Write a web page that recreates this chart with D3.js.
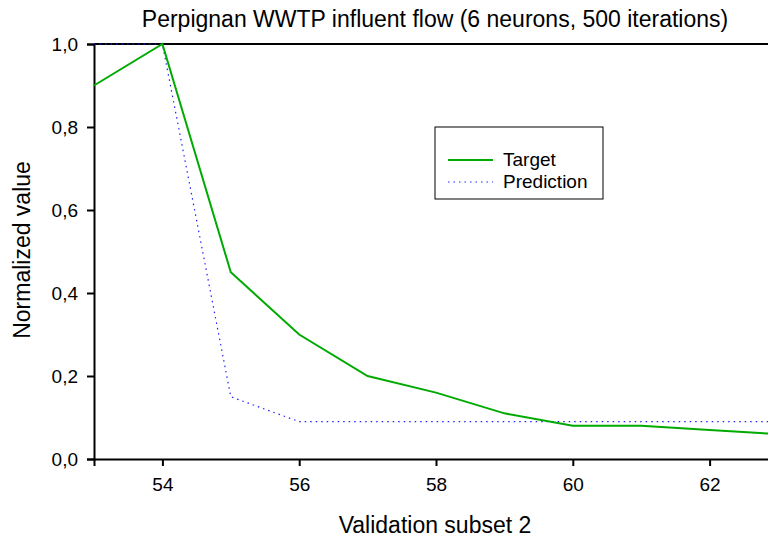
<!DOCTYPE html>
<html>
<head>
<meta charset="utf-8">
<script src="https://cdn.jsdelivr.net/npm/d3@7"></script>
<style>
    body { margin: 0; background: #fff; }
    svg text { font-family: Arial, "Liberation Sans", sans-serif; fill: #000; }
</style>
</head>
<body>
<div id="chart"></div>
<script>
// data
var xValues = [53, 54, 55, 56, 57, 58, 59, 60, 61, 62, 63];
var target = [0.90, 1.00, 0.45, 0.30, 0.20, 0.16, 0.11, 0.08, 0.08, 0.07, 0.06];
var prediction = [1.00, 1.00, 0.15, 0.09, 0.09, 0.09, 0.09, 0.09, 0.09, 0.09, 0.09];
var xTicks = [54, 56, 58, 60, 62];
var yTicks = [0, 0.2, 0.4, 0.6, 0.8, 1.0];
var seriesNames = ['Target', 'Prediction'];

var width = 768, height = 537;
var margin = {left: 94, top: 44, right: -10, bottom: 78};

var svg = d3.select('#chart').append('svg')
    .attr('width', width)
    .attr('height', height);

var x = d3.scaleLinear().domain([53, 63]).range([margin.left, width - margin.right]);
var y = d3.scaleLinear().domain([0, 1]).range([height - margin.bottom, margin.top]);

var fmt = function (d) { return d3.format('.1f')(d).replace('.', ','); };

// axes
var xAxis = svg.append('g')
    .attr('transform', 'translate(0,' + y(0) + ')')
    .call(d3.axisBottom(x).tickValues(xTicks).tickSize(7).tickPadding(12).tickFormat(d3.format('d')));
var yAxis = svg.append('g')
    .attr('transform', 'translate(' + x(53) + ',0)')
    .call(d3.axisLeft(y).tickValues(yTicks).tickSize(7).tickPadding(9).tickFormat(fmt));

[xAxis, yAxis].forEach(function (a) {
    a.select('.domain').attr('stroke', '#000').attr('stroke-width', 2);
    a.selectAll('.tick line').attr('stroke', '#000').attr('stroke-width', 2);
    a.selectAll('.tick text').style('font-size', '19px');
});

// top frame line
svg.append('line')
    .attr('x1', x(53)).attr('x2', width)
    .attr('y1', y(1)).attr('y2', y(1))
    .attr('stroke', '#000').attr('stroke-width', 2);

// lines
var line = d3.line().x(function (d, i) { return x(xValues[i]); }).y(function (d) { return y(d); });

svg.append('path')
    .attr('d', line(prediction))
    .attr('fill', 'none')
    .attr('stroke', '#2020ff')
    .attr('stroke-width', 1.2)
    .attr('stroke-dasharray', '1.5,4');

svg.append('path')
    .attr('d', line(target))
    .attr('fill', 'none')
    .attr('stroke', '#00aa00')
    .attr('stroke-width', 2);

// titles
svg.append('text')
    .attr('x', 435).attr('y', 27)
    .attr('text-anchor', 'middle')
    .style('font-size', '23px')
    .text('Perpignan WWTP influent flow (6 neurons, 500 iterations)');

svg.append('text')
    .attr('x', 435).attr('y', 533)
    .attr('text-anchor', 'middle')
    .style('font-size', '23px')
    .text('Validation subset 2');

svg.append('text')
    .attr('transform', 'translate(30,250) rotate(-90)')
    .attr('text-anchor', 'middle')
    .style('font-size', '23px')
    .text('Normalized value');

// legend
var legend = svg.append('g').attr('transform', 'translate(435,127)');
legend.append('rect')
    .attr('width', 168).attr('height', 72)
    .attr('fill', '#fff').attr('stroke', '#000').attr('stroke-width', 1);

var items = legend.selectAll('.item')
    .data(seriesNames)
    .enter()
    .append('g')
    .attr('class', 'item')
    .attr('transform', function (d, i) { return 'translate(0,' + (33 + i * 22) + ')'; });

items.append('line')
    .attr('x1', 13).attr('x2', 58)
    .attr('stroke', function (d, i) { return i == 0 ? '#00aa00' : '#2020ff'; })
    .attr('stroke-width', function (d, i) { return i == 0 ? 2 : 1.2; })
    .attr('stroke-dasharray', function (d, i) { return i == 0 ? null : '1.5,4'; });

items.append('text')
    .attr('x', 68).attr('y', 6)
    .style('font-size', '19px')
    .text(function (d) { return d; });
</script>
</body>
</html>
